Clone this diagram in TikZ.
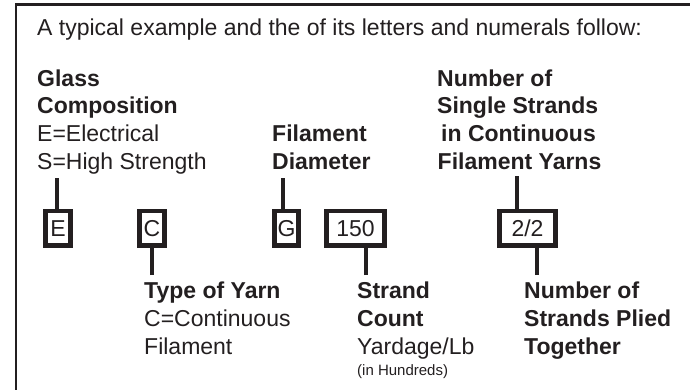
\documentclass[tikz,border=0pt]{standalone}
\usepackage{fontspec}
\setmainfont{Liberation Sans}
\definecolor{ink}{HTML}{231F20}
\begin{document}
\begin{tikzpicture}[x=1pt,y=-1pt,
  txt/.style={anchor=base west,inner sep=0pt,text=ink,font=\fontsize{23}{27.8}\selectfont},
  hd/.style={txt,font=\fontsize{23}{27.8}\selectfont\bfseries},
  small/.style={txt,font=\fontsize{15}{18}\selectfont},
  code/.style={draw=ink,line width=4.6pt,inner sep=0pt,minimum height=34.9pt,
    text=ink,font=\fontsize{23}{27.8}\selectfont},
  stem/.style={draw=ink,line width=4.4pt}]
\useasboundingbox (0,0) rectangle (690,389);
% open frame: top and left rules only
\coordinate (frameTR) at (692,4.5);
\coordinate (frameTL) at (16,4.5);
\coordinate (frameBL) at (16,392);
\draw[ink,line width=2.8pt] (frameTR) -- (frameTL) -- (frameBL);

% heading
\node[txt] (title) at (37,35.5) {A typical example and the of its letters and numerals follow:};

% upper legends
\node[hd]  (glassA) at (37,86)    {Glass};
\node[hd]  (glassB) at (37,113.8) {Composition};
\node[txt] (glassC) at (37,141.6) {E=Electrical};
\node[txt] (glassD) at (37,169.4) {S=High Strength};

\node[hd] (filA) at (272,141.6) {Filament};
\node[hd] (filB) at (272,169.4) {Diameter};

\node[hd] (numA) at (437,86)    {Number of};
\node[hd] (numB) at (437,113.8) {Single Strands};
\node[hd] (numC) at (441,141.6) {in Continuous};
\node[hd] (numD) at (437.5,169.4) {Filament Yarns};

% code boxes
\node[code,minimum width=25.4pt] (e)   at (58,228.3)    {E};
\node[code,minimum width=25.4pt] (c)   at (152,228.3)   {C};
\node[code,minimum width=24.4pt] (g)   at (286.5,228.3) {G};
\node[code,minimum width=58.4pt] (cnt) at (355.5,228.3) {150};
\node[code,minimum width=56.4pt] (ply) at (527.5,228.3) {2/2};

% lower legends
\node[hd]  (typeA) at (144,298) {Type of Yarn};
\node[txt] (typeB) at (144,326) {C=Continuous};
\node[txt] (typeC) at (144,354) {Filament};

\node[hd]    (strA) at (357,298) {Strand};
\node[hd]    (strB) at (357,326) {Count};
\node[txt]   (strC) at (357,354) {Yardage/Lb};
\node[small] (strD) at (357,375) {(in Hundreds)};

\node[hd] (pliA) at (524,298) {Number of};
\node[hd] (pliB) at (524,326) {Strands Plied};
\node[hd] (pliC) at (524,354) {Together};

% stems from legends to boxes
\coordinate (eTop)   at (57,178);
\coordinate (gTop)   at (283,178);
\coordinate (plyTop) at (517,176);
\coordinate (cBot)   at (152,275);
\coordinate (cntBot) at (366,275);
\coordinate (plyBot) at (537,275);
\draw[stem] (eTop) -- (eTop |- e.north);
\draw[stem] (gTop) -- (gTop |- g.north);
\draw[stem] (plyTop) -- (plyTop |- ply.north);
\draw[stem] (cBot) -- (cBot |- c.south);
\draw[stem] (cntBot) -- (cntBot |- cnt.south);
\draw[stem] (plyBot) -- (plyBot |- ply.south);
\end{tikzpicture}
\end{document}
